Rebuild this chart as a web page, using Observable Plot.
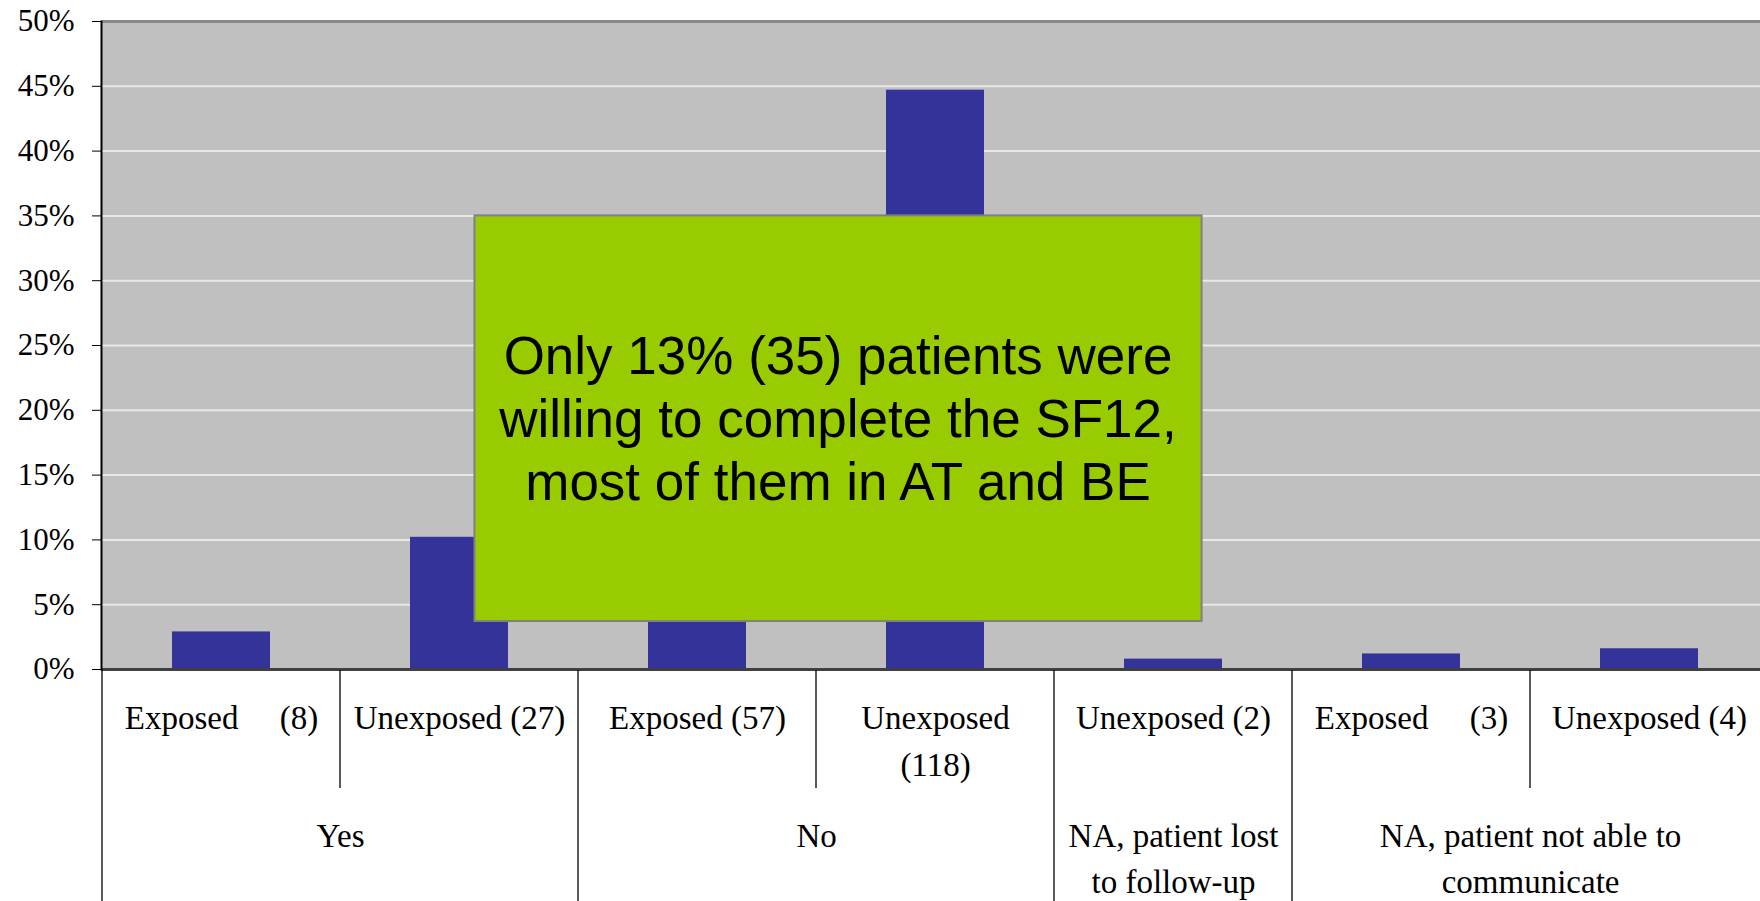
<!DOCTYPE html>
<html><head><meta charset="utf-8">
<script src="https://cdn.jsdelivr.net/npm/d3@7"></script>
<script src="https://cdn.jsdelivr.net/npm/@observablehq/plot@0.6"></script>
<style>
html,body{margin:0;padding:0;background:#fff;overflow:hidden;width:1760px;height:901px}
#chart svg{max-width:none !important;display:block}
</style>
</head><body><div id="chart"></div>
<script>
// ---- data ----
const categories = ["Exposed (8)", "Unexposed (27)", "Exposed (57)", "Unexposed (118)", "Unexposed (2)", "Exposed (3)", "Unexposed (4)"];
const categoryLabels = ["Exposed\u00a0\u00a0\u00a0\u00a0\u00a0(8)", "Unexposed (27)", "Exposed (57)", "Unexposed\n(118)", "Unexposed (2)", "Exposed\u00a0\u00a0\u00a0\u00a0\u00a0(3)", "Unexposed (4)"];
const groups = ["Yes", "Yes", "No", "No", "NA, patient lost\nto follow-up", "NA, patient not able to\ncommunicate", "NA, patient not able to\ncommunicate"];
const percentages = [2.9, 10.2, 21.5, 44.7, 0.8, 1.2, 1.6];
const yTicks = [0, 5, 10, 15, 20, 25, 30, 35, 40, 45, 50];
const yTickLabels = ["0%", "5%", "10%", "15%", "20%", "25%", "30%", "35%", "40%", "45%", "50%"];
const noteText = ["Only 13% (35) patients were", "willing to complete the SF12,", "most of them in AT and BE"];
const noteFrom = {category: "Unexposed (27)", fraction: 0.565};
const noteTo = {category: "Unexposed (2)", fraction: 0.62};
const noteY = [3.7, 35];

const rows = categories.map((c, i) => ({category: c, value: percentages[i], group: groups[i]}));
const groupInfo = [];
groups.forEach((g, i) => {
  const last = groupInfo[groupInfo.length - 1];
  if (last && last.label === g) last.n++;
  else groupInfo.push({label: g, first: categories[i], n: 1});
});

const W = 1768, H = 901;
const paddingInner = 0.59, paddingOuter = 0.295;
const xScale = Plot.scale({x: {type: "band", domain: categories, range: [101, W], paddingInner, paddingOuter}});
const step = xScale.step;
const serif = "Liberation Serif, Times New Roman, serif";

const chart = Plot.plot({
  width: W, height: H,
  marginLeft: 101, marginRight: 0, marginTop: 21, marginBottom: 232,
  style: {background: "#fff", color: "#000", fontFamily: serif, maxWidth: "none"},
  x: {type: "band", domain: categories, paddingInner, paddingOuter, axis: null},
  y: {domain: [0, 50], axis: null},
  marks: [
    Plot.frame({fill: "#c0c0c0", stroke: null}),
    Plot.gridY(yTicks, {stroke: "#e8e8e8", strokeOpacity: 1, strokeWidth: 2}),
    Plot.ruleY([50], {stroke: "#8a8a8a", strokeWidth: 3}),
    Plot.barY(rows, {x: "category", y: "value", fill: "#333399"}),
    Plot.ruleY([0], {stroke: "#404040", strokeWidth: 3}),
    Plot.axisY(yTicks, {tickSize: 9, text: null, stroke: "#000", label: null}),
    Plot.text(yTicks, {y: d => d, text: (d, i) => yTickLabels[i], frameAnchor: "left", dx: -27, textAnchor: "end", fontSize: 31, fontFamily: serif, fill: "#000"}),
    Plot.frame({anchor: "left", stroke: "#000", strokeWidth: 2}),
    Plot.text(rows, {x: "category", text: (d, i) => categoryLabels[i], frameAnchor: "bottom", dy: 26, lineAnchor: "top", lineHeight: 1.42, fontSize: 33, fontFamily: serif, fill: "#000"}),
    ...groupInfo.map(g => Plot.text([g], {x: () => g.first, text: "label", frameAnchor: "bottom", dy: 145, dx: (g.n - 1) * step / 2, lineAnchor: "top", lineHeight: 1.39, fontSize: 33, fontFamily: serif, fill: "#000"}))
  ]
});
document.getElementById("chart").appendChild(chart);

// category dividers below the axis, and the annotation box, through the chart's own scales
const xs = chart.scale("x"), ys = chart.scale("y");
const leftEdge = c => xs.apply(c) - (xs.step - xs.bandwidth) / 2;
const y0 = ys.apply(0);
const svg = d3.select(chart);
const g = svg.append("g");
categories.forEach((c, i) => {
  const full = i === 0 || groups[i] !== groups[i - 1];
  g.append("line").attr("x1", leftEdge(c)).attr("x2", leftEdge(c))
    .attr("y1", y0 + 1).attr("y2", full ? H : y0 + 119)
    .attr("stroke", "#000").attr("stroke-width", 1.3);
});
const bx1 = leftEdge(noteFrom.category) + noteFrom.fraction * xs.step;
const bx2 = leftEdge(noteTo.category) + noteTo.fraction * xs.step;
const by1 = ys.apply(noteY[1]), by2 = ys.apply(noteY[0]);
const ng = svg.append("g");
ng.append("rect").attr("x", bx1).attr("y", by1).attr("width", bx2 - bx1).attr("height", by2 - by1)
  .attr("fill", "#99cc00").attr("stroke", "#808080").attr("stroke-width", 2);
const fs = 53, lh = 63, mid = (by1 + by2) / 2;
noteText.forEach((t, i) => {
  ng.append("text").attr("x", (bx1 + bx2) / 2).attr("y", mid + 0.36 * fs + (i - 1) * lh)
    .attr("text-anchor", "middle").attr("font-family", "Liberation Sans, Arial, sans-serif")
    .attr("font-size", fs).attr("fill", "#000").text(t);
});
</script></body></html>
